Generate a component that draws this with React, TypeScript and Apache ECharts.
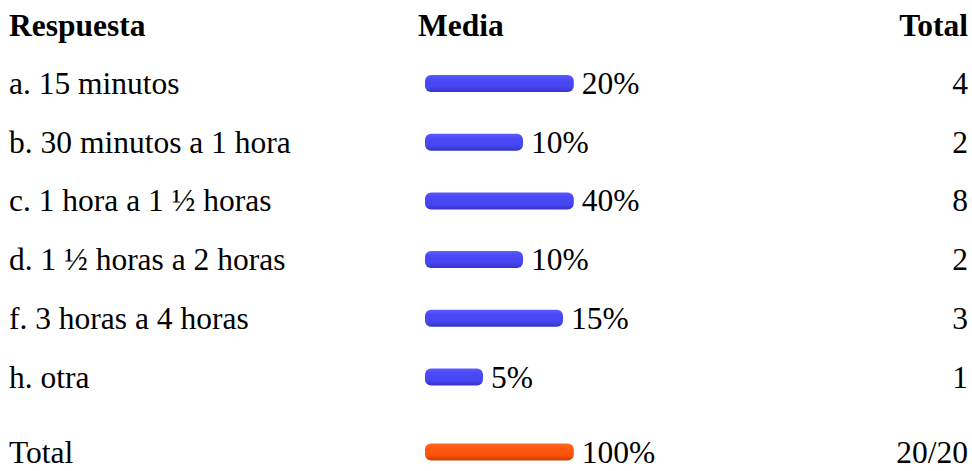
import React, { useEffect, useRef } from "react";
import * as echarts from "echarts";

const answers = [
  "a. 15 minutos",
  "b. 30 minutos a 1 hora",
  "c. 1 hora a 1 ½ horas",
  "d. 1 ½ horas a 2 horas",
  "f. 3 horas a 4 horas",
  "h. otra",
];
const percents = [20, 10, 40, 10, 15, 5];
const totals = ["4", "2", "8", "2", "3", "1"];
const totalLabel = ["Total"];
const totalPercent = [100];
const totalCount = ["20/20"];
const headers = ["Respuesta", "Media", "Total"];

// the survey's bar images grow by a fixed step per percent and are capped in length
const barLen = (p: number) => Math.min(p + 2.25, 18.6);

const FONT = "'Liberation Serif', 'Times New Roman', serif";
const FS = 31.5;

const blue = new echarts.graphic.LinearGradient(0, 0, 0, 1, [
  { offset: 0, color: "#5c5cff" },
  { offset: 0.25, color: "#4a4af8" },
  { offset: 0.7, color: "#4646f2" },
  { offset: 1, color: "#3434c4" },
]);
const orange = new echarts.graphic.LinearGradient(0, 0, 0, 1, [
  { offset: 0, color: "#ff6a22" },
  { offset: 0.25, color: "#ff5a10" },
  { offset: 0.7, color: "#fb520a" },
  { offset: 1, color: "#c83c00" },
]);

export default function App() {
  const ref = useRef<HTMLDivElement>(null);
  useEffect(() => {
    if (!ref.current) return;
    const chart = echarts.init(ref.current, null, { renderer: "svg" });
    const labelStyle = { fontFamily: FONT, fontSize: FS, color: "#000", lineHeight: 26 };
    const bandH = 58.7;
    chart.setOption({
      animation: false,
      backgroundColor: "#fff",
      graphic: [
        { type: "text", x: 9, y: 9, style: { text: headers[0], font: `bold ${FS}px ${FONT}`, fill: "#000" } },
        { type: "text", x: 418, y: 9, style: { text: headers[1], font: `bold ${FS}px ${FONT}`, fill: "#000" } },
        { type: "text", x: 968, y: 9, style: { text: headers[2], font: `bold ${FS}px ${FONT}`, fill: "#000", align: "right" } },
      ],
      grid: [
        { left: 425, width: 160, top: 83.5 - bandH / 2, height: bandH * 6, outerBoundsMode: "none", containLabel: false },
        { left: 425, width: 160, top: 436, height: 32, outerBoundsMode: "none", containLabel: false },
      ],
      xAxis: [
        { gridIndex: 0, type: "value", min: 0, max: 20, show: false },
        { gridIndex: 1, type: "value", min: 0, max: 20, show: false },
      ],
      yAxis: [
        {
          gridIndex: 0, type: "category", data: answers, inverse: true,
          axisLine: { show: false }, axisTick: { show: false },
          axisLabel: { ...labelStyle, align: "left", margin: 416 },
        },
        {
          gridIndex: 0, type: "category", data: totals, inverse: true, position: "right",
          axisLine: { show: false }, axisTick: { show: false },
          axisLabel: { ...labelStyle, align: "right", margin: 383 },
        },
        {
          gridIndex: 1, type: "category", data: totalLabel,
          axisLine: { show: false }, axisTick: { show: false },
          axisLabel: { ...labelStyle, align: "left", margin: 416 },
        },
        {
          gridIndex: 1, type: "category", data: totalCount, position: "right",
          axisLine: { show: false }, axisTick: { show: false },
          axisLabel: { ...labelStyle, align: "right", margin: 383 },
        },
      ],
      series: [
        {
          type: "bar", xAxisIndex: 0, yAxisIndex: 0, barWidth: 17,
          data: percents.map(barLen),
          itemStyle: { color: blue, borderRadius: 6 },
          label: {
            show: true, position: "right", distance: 8, ...labelStyle,
            formatter: (p: any) => percents[p.dataIndex] + "%",
          },
        },
        {
          type: "bar", xAxisIndex: 1, yAxisIndex: 2, barWidth: 17,
          data: totalPercent.map(barLen),
          itemStyle: { color: orange, borderRadius: 6 },
          label: {
            show: true, position: "right", distance: 8, ...labelStyle,
            formatter: (p: any) => totalPercent[p.dataIndex] + "%",
          },
        },
      ],
    });
    return () => chart.dispose();
  }, []);
  return (
    <div
      ref={ref}
      style={{ position: "fixed", left: 0, top: 0, width: 972, height: 471 }}
    />
  );
}
